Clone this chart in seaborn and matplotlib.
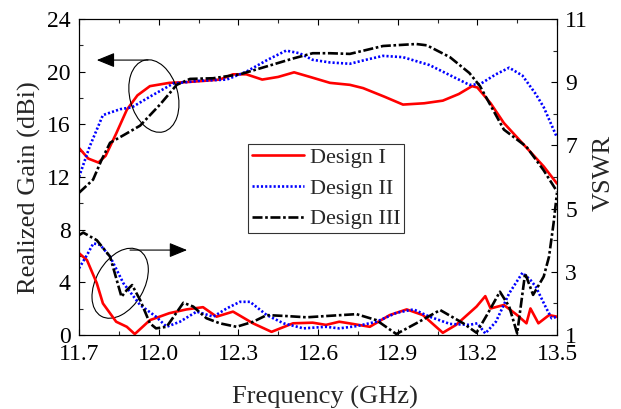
import numpy as np
import pandas as pd
import matplotlib
matplotlib.use("Agg")
import matplotlib.pyplot as plt
import seaborn as sns
from matplotlib.patches import Ellipse
from matplotlib.transforms import ScaledTranslation
from matplotlib.lines import Line2D

# ---------------- data ----------------
f_gain_1 = [11.70, 11.735, 11.773, 11.80, 11.84, 11.88, 11.92, 11.967, 12.04, 12.10, 12.17, 12.23,
            12.28, 12.33, 12.39, 12.45, 12.51, 12.57, 12.645, 12.72, 12.77, 12.85, 12.92, 13.00,
            13.07, 13.13, 13.18, 13.20, 13.25, 13.30, 13.35, 13.40, 13.45, 13.50]
gain_1 = [14.2, 13.4, 13.1, 13.6, 15.3, 17.1, 18.2, 18.9, 19.15, 19.2, 19.3, 19.4,
          19.8, 19.8, 19.4, 19.6, 19.95, 19.6, 19.15, 19.0, 18.75, 18.1, 17.5, 17.6,
          17.8, 18.3, 18.9, 18.8, 17.6, 16.1, 15.0, 13.9, 12.8, 11.5]

f_gain_2 = [11.70, 11.74, 11.79, 11.855, 11.90, 11.967, 12.055, 12.15, 12.256, 12.33, 12.41, 12.48,
            12.53, 12.58, 12.645, 12.72, 12.78, 12.845, 12.92, 13.02, 13.10, 13.17, 13.21, 13.27,
            13.32, 13.37, 13.42, 13.45, 13.50]
gain_2 = [12.0, 14.3, 16.7, 17.15, 17.3, 18.1, 19.1, 19.3, 19.4, 20.0, 20.9, 21.6,
          21.4, 20.9, 20.7, 20.6, 20.9, 21.2, 21.1, 20.5, 19.7, 19.0, 19.05, 19.8,
          20.3, 19.7, 18.3, 17.3, 15.0]

f_gain_3 = [11.70, 11.753, 11.785, 11.817, 11.87, 11.93, 12.005, 12.068, 12.118, 12.205, 12.306,
            12.407, 12.506, 12.58, 12.645, 12.72, 12.845, 12.97, 13.01, 13.097, 13.17, 13.21,
            13.30, 13.385, 13.45, 13.50]
gain_3 = [10.8, 11.8, 13.3, 14.6, 15.2, 15.9, 17.5, 19.0, 19.45, 19.5, 19.8,
          20.4, 21.0, 21.4, 21.4, 21.35, 21.95, 22.1, 22.0, 21.1, 19.9, 18.9,
          15.6, 14.3, 12.5, 10.9]

f_vswr_1 = [11.70, 11.73, 11.767, 11.79, 11.84, 11.88, 11.91, 11.967, 12.04, 12.105, 12.167, 12.218,
            12.28, 12.355, 12.425, 12.506, 12.58, 12.63, 12.68, 12.71, 12.795, 12.87, 12.934, 12.995,
            13.07, 13.12, 13.197, 13.23, 13.25, 13.30, 13.35, 13.385, 13.40, 13.43, 13.47, 13.50]
vswr_1 = [3.59, 3.37, 2.64, 2.0, 1.42, 1.26, 1.03, 1.47, 1.69, 1.81, 1.88, 1.58,
          1.74, 1.37, 1.10, 1.37, 1.39, 1.32, 1.42, 1.38, 1.26, 1.63, 1.81, 1.63,
          1.07, 1.32, 1.90, 2.23, 1.84, 1.95, 1.63, 1.37, 1.84, 1.37, 1.63, 1.58]

f_vswr_2 = [11.70, 11.73, 11.754, 11.78, 11.817, 11.867, 11.93, 11.99, 12.03, 12.08, 12.143, 12.206,
            12.256, 12.306, 12.344, 12.407, 12.47, 12.545, 12.63, 12.68, 12.745, 12.82, 12.895, 12.96,
            13.02, 13.097, 13.17, 13.20, 13.23, 13.27, 13.32, 13.37, 13.40, 13.42, 13.46, 13.48, 13.50]
vswr_2 = [3.11, 3.53, 3.9, 3.85, 3.48, 2.64, 1.95, 1.58, 1.26, 1.42, 1.74, 1.58,
          1.84, 2.05, 2.05, 1.63, 1.37, 1.21, 1.26, 1.21, 1.28, 1.42, 1.70, 1.81,
          1.58, 1.35, 1.32, 1.37, 1.05, 1.42, 2.32, 2.97, 2.74, 2.53, 1.84, 1.53, 1.58]

f_vswr_3 = [11.70, 11.716, 11.767, 11.817, 11.86, 11.88, 11.90, 11.93, 11.967, 11.99, 12.03, 12.093,
            12.13, 12.18, 12.23, 12.293, 12.356, 12.407, 12.48, 12.557, 12.63, 12.745, 12.82, 12.895,
            12.97, 13.06, 13.147, 13.197, 13.24, 13.285, 13.32, 13.35, 13.38, 13.41, 13.45, 13.47,
            13.487, 13.50]
vswr_3 = [4.16, 4.24, 4.0, 3.48, 2.21, 2.42, 2.58, 2.11, 1.37, 1.21, 1.26, 2.02,
          1.90, 1.53, 1.37, 1.26, 1.42, 1.63, 1.60, 1.56, 1.60, 1.66, 1.47, 1.03,
          1.37, 1.79, 1.37, 1.07, 1.69, 2.37, 1.90, 1.05, 2.95, 2.27, 2.85, 3.48,
          4.53, 5.5]

designs = ["Design I", "Design II", "Design III"]
colors = ["#ff0000", "#0000ff", "#000000"]

x_ticks = [11.7, 12.0, 12.3, 12.6, 12.9, 13.2, 13.5]
gain_ticks = [0, 4, 8, 12, 16, 20, 24]
vswr_ticks = [1, 3, 5, 7, 9, 11]

# ---------------- style ----------------
sns.set_theme(style="ticks")
plt.rcParams["font.family"] = ["Liberation Serif", "DejaVu Serif"]

TICK_FS = 17
LABEL_FS = 19
LEG_FS = 16
fig = plt.figure(figsize=(6.21, 4.09), dpi=100)
ax = fig.add_axes([79/621, 1-335/409, (557-79)/621, (335-19)/409])
ax2 = ax.twinx()

LW = 1.9
dash_styles = [None, (0.8, 0.8), (3.8, 1.0, 1.0, 1.0)]

gain_sets = [(f_gain_1, gain_1), (f_gain_2, gain_2), (f_gain_3, gain_3)]
vswr_sets = [(f_vswr_1, vswr_1), (f_vswr_2, vswr_2), (f_vswr_3, vswr_3)]

handles = []
for i, name in enumerate(designs):
    fx, gy = gain_sets[i]
    df = pd.DataFrame({"f": fx, "g": gy})
    sns.lineplot(data=df, x="f", y="g", ax=ax, color=colors[i], lw=LW, estimator=None)
    ln = ax.lines[-1]
    if dash_styles[i] is not None:
        ln.set_dashes(dash_styles[i])
    fv, vy = vswr_sets[i]
    dv = pd.DataFrame({"f": fv, "v": vy})
    sns.lineplot(data=dv, x="f", y="v", ax=ax2, color=colors[i], lw=LW, estimator=None)
    ln2 = ax2.lines[-1]
    if dash_styles[i] is not None:
        ln2.set_dashes(dash_styles[i])
    h = Line2D([], [], color=colors[i], lw=LW)
    if dash_styles[i] is not None:
        h.set_dashes(dash_styles[i])
    handles.append(h)

ax.set_xlim(11.7, 13.5)
ax.set_ylim(0, 24)
ax2.set_ylim(1, 11)

ax.set_xticks(x_ticks)
ax.set_xticklabels([f"{v:.1f}" for v in x_ticks])
ax.set_xticks(np.arange(11.85, 13.5, 0.3), minor=True)
ax.set_yticks(gain_ticks)
ax.set_yticks(np.arange(2, 24, 4), minor=True)
ax2.set_yticks(vswr_ticks)
ax2.set_yticks(np.arange(2, 11, 2), minor=True)

for a in (ax, ax2):
    for s in a.spines.values():
        s.set_linewidth(0.8)
        s.set_color("black")
ax.tick_params(axis="x", which="major", direction="in", length=4.5, width=0.8,
               labelsize=TICK_FS, colors="black", top=True, pad=6.5)
ax.tick_params(axis="y", which="major", direction="in", length=4.5, width=0.8,
               labelsize=TICK_FS, colors="black", right=False, pad=6)
ax.tick_params(axis="both", which="minor", direction="in", length=3, width=0.8, top=True, right=False)
ax2.tick_params(axis="y", which="major", direction="in", length=4.5, width=0.8,
                labelsize=TICK_FS, colors="black", pad=6)
ax2.tick_params(axis="y", which="minor", direction="in", length=3, width=0.8)

ax.set_xlabel("Frequency (GHz)", fontsize=LABEL_FS, labelpad=15)
ax.set_ylabel("Realized Gain (dBi)", fontsize=LABEL_FS, labelpad=4)
ax2.set_ylabel("VSWR", fontsize=LABEL_FS, labelpad=3)
ax.xaxis.label.set_x(0.515)
ax.yaxis.label.set_y(0.465)
ax2.yaxis.label.set_y(0.514)

leg = ax.legend(handles, designs, loc="upper left", bbox_to_anchor=(0.354, 0.6035),
                borderaxespad=0, fontsize=LEG_FS, frameon=True, fancybox=False,
                handlelength=2.35, handletextpad=0.26, labelspacing=0.45,
                borderpad=0.15)
leg.get_frame().set_edgecolor("black")
leg.get_frame().set_linewidth(0.8)
leg.set_zorder(10)

# annotations: ellipses and arrows
tr1 = fig.dpi_scale_trans + ScaledTranslation(11.982, 18.15, ax.transData)
ax.add_patch(Ellipse((0, 0), width=0.48, height=0.74, angle=15, transform=tr1,
                     fill=False, ec="black", lw=0.8, zorder=5))
tr2 = fig.dpi_scale_trans + ScaledTranslation(11.855, 3.93, ax.transData)
ax.add_patch(Ellipse((0, 0), width=0.48, height=0.76, angle=-30, transform=tr2,
                     fill=False, ec="black", lw=0.8, zorder=5))
arrow_kw = dict(arrowstyle="-|>,head_length=1.1,head_width=0.45", color="black",
                lw=0.8, shrinkA=0, shrinkB=0, mutation_scale=10)
ax.annotate("", xy=(11.767, 20.88), xytext=(11.96, 20.88), arrowprops=arrow_kw)
ax.annotate("", xy=(12.107, 6.45), xytext=(11.892, 6.45), arrowprops=arrow_kw)

fig.savefig("out.png", dpi=100)
